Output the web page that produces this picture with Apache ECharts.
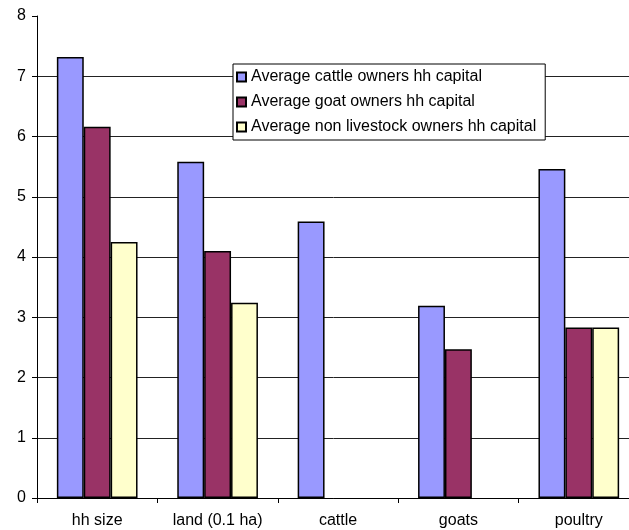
<!DOCTYPE html>
<html>
<head>
<meta charset="utf-8">
<script src="https://cdn.jsdelivr.net/npm/echarts@6/dist/echarts.min.js"></script>
<style>
  html, body { margin: 0; padding: 0; background: #fff; overflow: hidden; }
  #chart { width: 629px; height: 530px; }
</style>
</head>
<body>
<div id="chart"></div>
<script>
// Household capital by livestock ownership group
const categories = ['hh size', 'land (0.1 ha)', 'cattle', 'goats', 'poultry'];
const cattleOwners = [7.32, 5.58, 4.59, 3.19, 5.46];
const goatOwners = [6.16, 4.10, null, 2.47, 2.83];
const nonLivestockOwners = [4.25, 3.24, null, null, 2.83];
const seriesNames = [
  'Average cattle owners hh capital',
  'Average goat owners hh capital',
  'Average non livestock owners hh capital'
];
const yTicks = [0, 1, 2, 3, 4, 5, 6, 7, 8];

const colors = ['#9999FF', '#993366', '#FFFFCC'];
const font = '"Liberation Sans", Arial, sans-serif';

const chart = echarts.init(document.getElementById('chart'), null, { renderer: 'canvas' });

function barSeries(name, data, color) {
  return {
    name: name,
    type: 'bar',
    data: data,
    barGap: '0%',
    barCategoryGap: '33%',
    itemStyle: { color: color, borderColor: '#000', borderWidth: 1.5 },
    emphasis: { disabled: true }
  };
}

chart.setOption({
  animation: false,
  textStyle: { fontFamily: font },
  // plot area runs past the right edge of the canvas
  grid: {
    left: 37, top: 16, height: 482, width: 602,
    containLabel: false,
    outerBoundsMode: 'none'
  },
  legend: {
    orient: 'vertical',
    left: 233,
    top: 64,
    data: seriesNames,
    icon: 'rect',
    itemWidth: 9,
    itemHeight: 9,
    itemGap: 7,
    itemTextGap: 4,
    padding: [4, 9, 4, 3],
    borderColor: '#000',
    borderWidth: 1,
    backgroundColor: '#fff',
    textStyle: { fontFamily: font, fontSize: 16, color: '#000', lineHeight: 18 },
    selectedMode: false
  },
  xAxis: {
    type: 'category',
    data: categories,
    axisLine: { lineStyle: { color: '#000', width: 1 } },
    axisTick: { show: true, length: 5, inside: false, lineStyle: { color: '#000' } },
    axisLabel: { color: '#000', fontSize: 16, margin: 15, fontFamily: font },
    splitLine: { show: false }
  },
  yAxis: {
    type: 'value',
    min: yTicks[0],
    max: yTicks[yTicks.length - 1],
    interval: 1,
    axisLine: { show: true, lineStyle: { color: '#000', width: 1 } },
    axisTick: { show: true, length: 5, lineStyle: { color: '#000' } },
    axisLabel: { color: '#000', fontSize: 16, margin: 11, fontFamily: font },
    splitLine: {
      show: true,
      lineStyle: {
        color: yTicks.map((t, i) => i === yTicks.length - 1 ? 'rgba(0,0,0,0)' : '#222'),
        width: 1
      }
    }
  },
  series: [
    barSeries(seriesNames[0], cattleOwners, colors[0]),
    barSeries(seriesNames[1], goatOwners, colors[1]),
    barSeries(seriesNames[2], nonLivestockOwners, colors[2])
  ]
});
</script>
</body>
</html>
